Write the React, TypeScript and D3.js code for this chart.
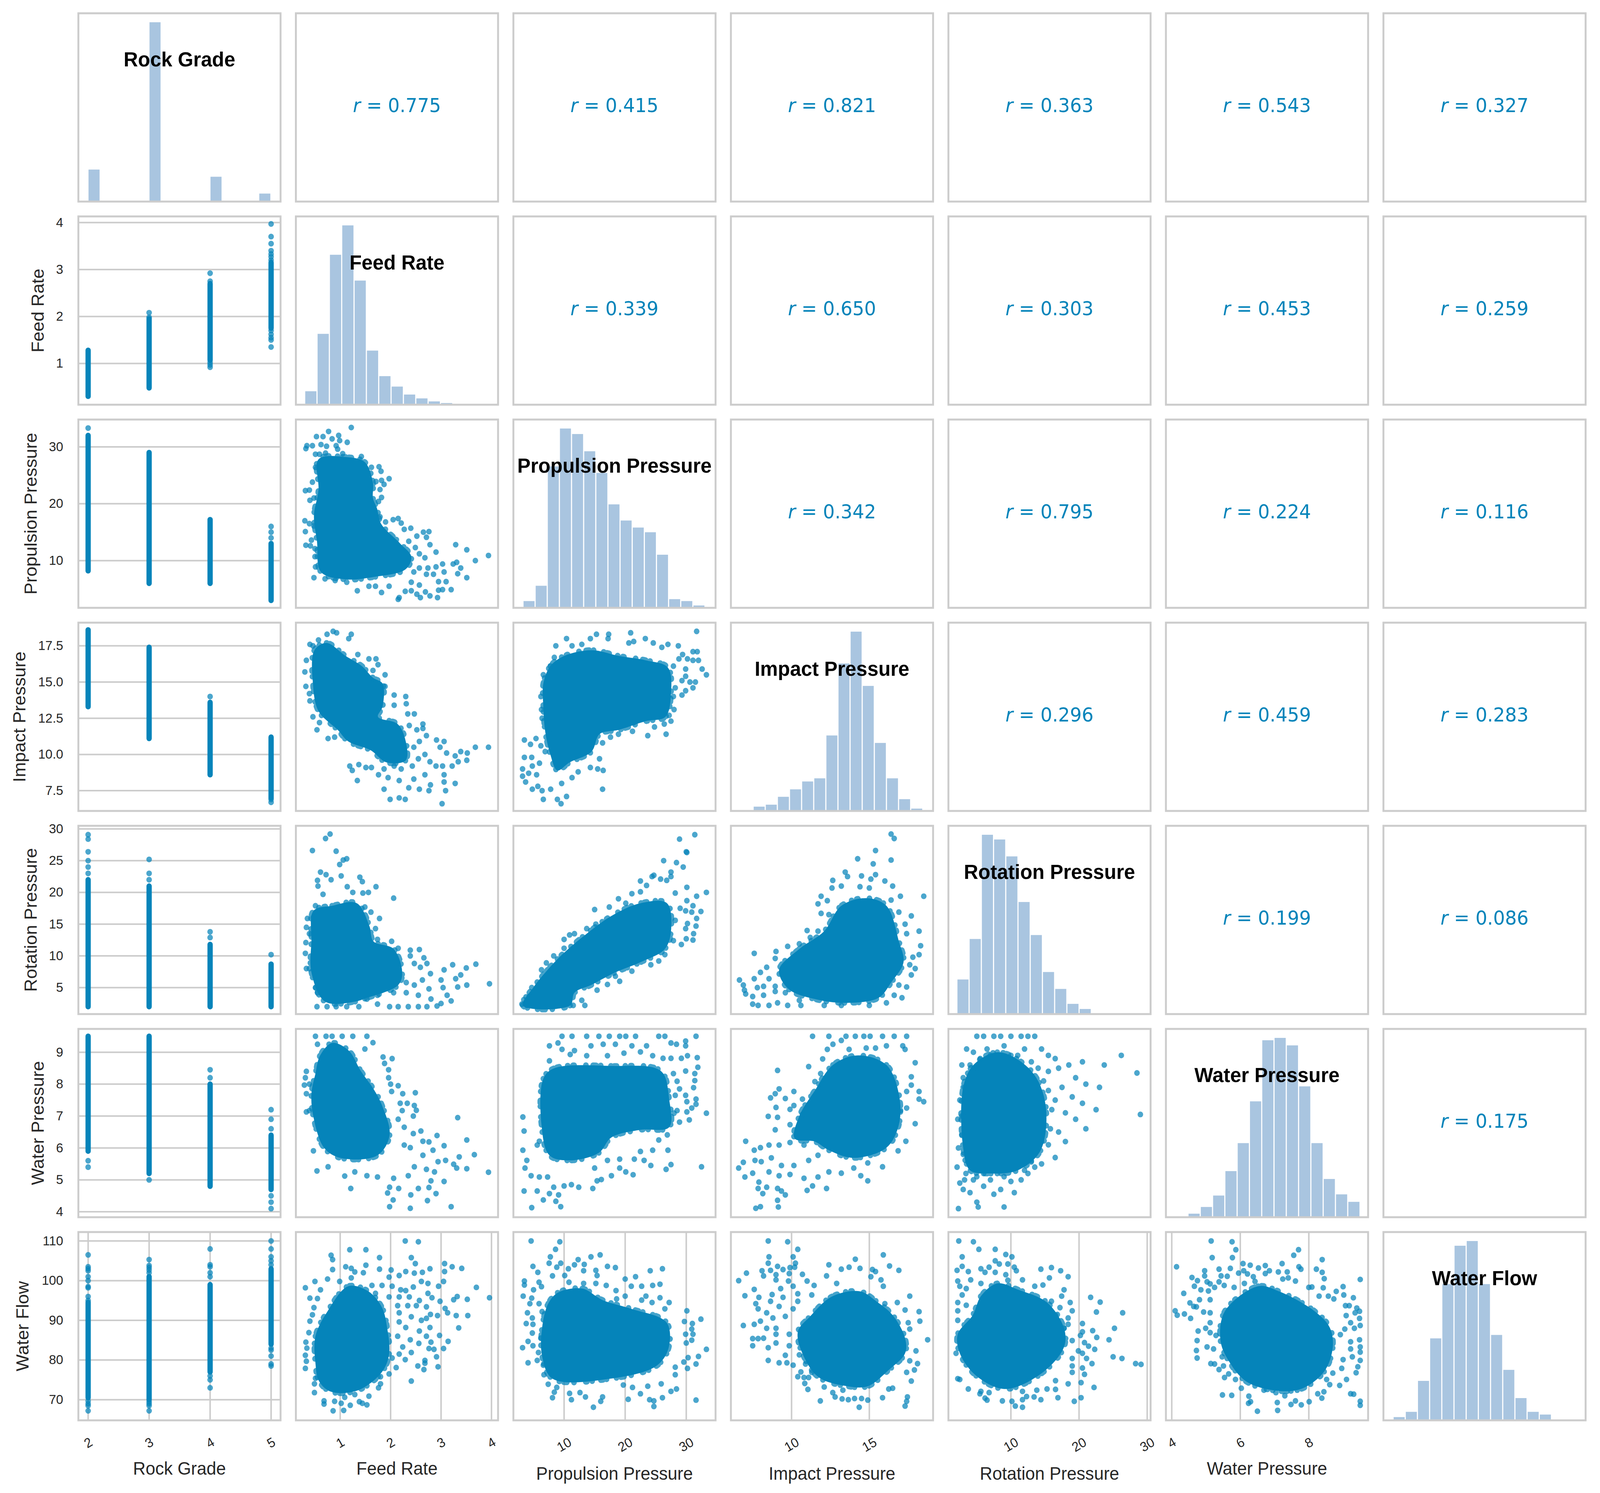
import React, { useEffect, useRef } from 'react';
import * as d3 from 'd3';

const variables = ['Rock Grade', 'Feed Rate', 'Propulsion Pressure', 'Impact Pressure', 'Rotation Pressure', 'Water Pressure', 'Water Flow'];

const axisDomains = [[1.84, 5.155], [0.122, 4.13], [1.7, 34.8], [6.1, 19.1], [0.83, 30.5], [3.83, 9.73], [64.8, 112.25]];
const yTicks = [[], [1, 2, 3, 4], [10, 20, 30], [7.5, 10, 12.5, 15, 17.5], [5, 10, 15, 20, 25, 30], [4, 5, 6, 7, 8, 9], [70, 80, 90, 100, 110]];
const xTicks = [[2, 3, 4, 5], [1, 2, 3, 4], [10, 20, 30], [10, 15], [10, 20, 30], [4, 6, 8], []];

// correlation labels, upper triangle by row
const rValues = [
  [0.775, 0.415, 0.821, 0.363, 0.543, 0.327],
  [0.339, 0.65, 0.303, 0.453, 0.259],
  [0.342, 0.795, 0.224, 0.116],
  [0.296, 0.459, 0.283],
  [0.199, 0.086],
  [0.175],
];

// histogram bars, heights
const histRock = [116, 0, 0, 0, 0, 650, 0, 0, 0, 0, 90, 0, 0, 0, 29];
const histFeed = [49, 258, 546, 653, 452, 197, 104, 66, 37, 23, 12, 6, 2, 1, 1];
const histPropulsion = [49, 160, 1025, 1300, 1260, 1135, 978, 750, 633, 582, 548, 385, 63, 49, 17];
const histImpact = [33, 48, 108, 165, 225, 249, 576, 1125, 1368, 954, 519, 249, 90, 18];
const histRotation = [264, 573, 1368, 1332, 1203, 855, 603, 321, 192, 78, 39, 3, 1, 1, 1];
const histWaterPressure = [3, 27, 78, 165, 351, 564, 882, 1347, 1365, 1308, 996, 564, 291, 174, 117];
const histWaterFlow = [18, 47, 218, 453, 753, 965, 991, 753, 472, 279, 123, 47, 32, 1, 1];
const histCounts = [histRock, histFeed, histPropulsion, histImpact, histRotation, histWaterPressure, histWaterFlow];
const histRanges = [[2, 5], [0.3, 3.97], [3.3, 33.1], [7.54, 18.45], [2.1, 29], [4.12, 9.5], [67.1, 110]];

// solid runs of overplotted points in the Rock Grade column: grade, from, to
const stripsFeed = [[2, 0.3, 1.28], [3, 0.48, 1.95], [4, 1.07, 2.7], [5, 1.75, 3.15]];
const stripsPropulsion = [[2, 8.2, 32], [3, 6, 29], [4, 6, 17.2], [5, 3, 13]];
const stripsImpact = [[2, 13.3, 18.6], [3, 11.1, 17.4], [4, 8.6, 13.6], [5, 7, 11.2]];
const stripsRotation = [[2, 2, 22], [3, 2, 21], [4, 2, 11.8], [5, 2, 8.7]];
const stripsWaterPressure = [[2, 5.9, 9.5], [3, 5.2, 9.5], [4, 4.8, 8], [5, 4.7, 6.4]];
const stripsWaterFlow = [[2, 70.5, 94.5], [3, 70, 101], [4, 77, 99], [5, 84, 103]];
const stripsByRow = [[], stripsFeed, stripsPropulsion, stripsImpact, stripsRotation, stripsWaterPressure, stripsWaterFlow];

// single points beyond those runs: grade, value
const gradeFeed = [[3, 2.08], [3, 1.98], [4, 0.92], [4, 0.97], [4, 1.02], [4, 2.75], [4, 2.92], [5, 1.35], [5, 1.5], [5, 1.55], [5, 1.62], [5, 1.7], [5, 3.2], [5, 3.27], [5, 3.33], [5, 3.4], [5, 3.55], [5, 3.7], [5, 3.97]];
const gradePropulsion = [[2, 33.3], [5, 14], [5, 15], [5, 16]];
const gradeImpact = [[4, 14], [5, 6.7], [5, 6.9]];
const gradeRotation = [[2, 23], [2, 24], [2, 25], [2, 26.4], [2, 28.4], [2, 29.1], [3, 22], [3, 23], [3, 25.2], [4, 12.9], [4, 13.8], [5, 10.2]];
const gradeWaterPressure = [[2, 5.4], [2, 5.6], [3, 5], [4, 8.2], [4, 8.45], [5, 4.1], [5, 4.3], [5, 4.5], [5, 6.6], [5, 6.9], [5, 7.2]];
const gradeWaterFlow = [[2, 67.2], [2, 68.5], [2, 69], [2, 69.7], [2, 95], [2, 96], [2, 98.2], [2, 98.5], [2, 100], [2, 101], [2, 102.5], [2, 103], [2, 103.5], [2, 106.5], [3, 67.2], [3, 68.5], [3, 69], [3, 69.5], [3, 102], [3, 102.7], [3, 103.3], [3, 103.8], [3, 105.3], [4, 73], [4, 75], [4, 76], [4, 101], [4, 102], [4, 103.5], [4, 104], [4, 108], [5, 78.5], [5, 79], [5, 81], [5, 82.5], [5, 83], [5, 104], [5, 105], [5, 106], [5, 108], [5, 110]];
const gradePointsByRow = [[], gradeFeed, gradePropulsion, gradeImpact, gradeRotation, gradeWaterPressure, gradeWaterFlow];

// outline of the solid overplotted core of each scatter, keyed "x-y" by variable index
const cores: Record<string, number[][]> = {
  '1-2': [[0.57, 27.8], [1.11, 28.2], [1.49, 27.3], [1.65, 23.7], [1.65, 21], [1.73, 19.2], [1.81, 16.5], [2.19, 13], [2.41, 10.7], [2.3, 8.5], [1.65, 7.1], [1.11, 6.7], [0.62, 8], [0.54, 13.4], [0.48, 17.9], [0.57, 22.4]],
  '1-3': [[0.49, 17.2], [0.73, 17.7], [1.11, 16.8], [1.43, 16.1], [1.65, 15.3], [1.84, 14.9], [1.84, 13.3], [1.75, 12.6], [2.14, 12.1], [2.3, 10.9], [2.3, 9.6], [1.92, 9.45], [1.6, 10.3], [1.16, 10.9], [0.95, 11.7], [0.57, 13], [0.46, 14.9]],
  '1-4': [[0.47, 17.1], [0.84, 17.9], [1.33, 18.3], [1.58, 14.7], [1.66, 12.3], [2.06, 11.1], [2.23, 7.4], [2.15, 5.4], [1.5, 3.3], [1.3, 2.8], [0.7, 2.8], [0.43, 7.4], [0.43, 12.3]],
  '1-5': [[0.51, 8.33], [0.6, 8.89], [0.84, 9.29], [1.17, 9.05], [1.41, 8.41], [1.66, 7.85], [1.82, 7.37], [1.98, 6.41], [1.74, 5.77], [1, 5.69], [0.68, 6.01], [0.47, 6.97], [0.43, 7.69]],
  '1-6': [[0.51, 79.2], [0.51, 86], [0.75, 92.3], [1.16, 98.6], [1.56, 97.3], [1.83, 93.2], [1.93, 88.2], [1.97, 81.5], [1.83, 77], [1.36, 72.4], [0.82, 72], [0.58, 74.7]],
  '2-3': [[6.6, 14.9], [7.75, 16.1], [10, 16.8], [14.5, 17.2], [19, 16.8], [23.4, 16.5], [27, 16], [27.5, 14.2], [26.6, 12.6], [23.4, 12.3], [19, 11.7], [15.8, 11.4], [14.5, 10.2], [10.9, 9.45], [8.9, 8.9], [7.75, 10], [6.9, 11.6], [6.6, 13.3]],
  '2-4': [[4.94, 5], [7.3, 7.8], [9.66, 10.2], [13.7, 13.5], [17.75, 16.3], [22.5, 18.3], [26.85, 18.3], [27.5, 13.9], [26.5, 11.1], [22.5, 9], [18.4, 7.4], [14.4, 5.4], [11.7, 4.2], [11, 2.2], [3.25, 2.2]],
  '2-5': [[6.6, 8.17], [8.3, 8.49], [17.75, 8.57], [25.85, 8.41], [27.2, 7.53], [27.2, 6.65], [22.5, 6.57], [17.75, 6.33], [15.7, 5.85], [11, 5.61], [7.6, 5.77], [6.3, 6.73]],
  '2-6': [[6.4, 88.1], [7.4, 94.2], [9, 97], [13, 98], [16.3, 95.1], [21, 92.9], [26.8, 89.4], [27.1, 83], [25.1, 78.5], [17.6, 75.3], [8.1, 75.3], [6.4, 81]],
  '3-4': [[9.2, 7.8], [10.5, 11.1], [12.1, 13.9], [13.2, 17.9], [14.8, 19.1], [16.1, 17.9], [16.9, 12.3], [17.2, 9], [16.4, 5.8], [15.6, 3.4], [13.45, 2.6], [11.5, 3.2], [9.8, 4.8]],
  '3-5': [[11.5, 7.8], [12.66, 8.6], [14.25, 8.9], [16.1, 8.6], [16.9, 7.69], [16.9, 6.73], [16.1, 6.01], [14, 5.69], [12.4, 5.93], [11.5, 6.2], [10.2, 6.3], [10.5, 7]],
  '3-6': [[11.2, 91], [12.6, 96], [14.4, 97.3], [15.45, 94.8], [16.5, 91.3], [17.3, 85.5], [17.3, 81.7], [16.25, 77.5], [14.9, 73.4], [13.6, 73.4], [11.8, 75.5], [10.9, 80], [10.4, 87]],
  '4-5': [[3, 6], [3, 7.9], [4.5, 8.6], [8, 9], [11.5, 8.7], [14, 8.1], [15.2, 7.1], [14.3, 5.9], [11, 5.3], [7, 5.2], [4, 5.3]],
  '4-6': [[4.4, 91.3], [5.6, 96.1], [8, 99.3], [11.1, 97.7], [15.3, 94.5], [17.8, 88], [17.8, 83.3], [14.7, 76.9], [9.25, 72.7], [5, 75.9], [2.5, 81.7], [2.2, 86.5]],
  '5-6': [[5.55, 92.3], [6.52, 98.6], [7.13, 97.3], [8.17, 92.3], [8.61, 88.2], [8.7, 83.3], [8.44, 77], [7.65, 72.4], [6.25, 74.2], [5.64, 80.1], [5.42, 85.1]],
};

// points that stay visible around each core, read panel by panel
const feedPropulsion = [[1.22, 33.4], [0.77, 32.7], [0.53, 31.8], [0.66, 31.8], [0.97, 32], [0.99, 31.1], [1.14, 30.8], [0.84, 31.4], [0.34, 30.2], [0.32, 29.7], [0.45, 30.2], [0.62, 30.4], [0.73, 30.1], [0.92, 30.2], [0.95, 29.6], [0.51, 28.7], [0.71, 28.9], [1.05, 28.8], [1.42, 28.3], [0.59, 28.7], [1.62, 26.4], [1.77, 26.5], [1.81, 25.7], [0.51, 26.4], [1.97, 24.4], [0.45, 23.8], [1.71, 23.9], [1.82, 24.1], [1.87, 23.4], [1.79, 22.5], [0.31, 22.3], [0.39, 22.4], [0.4, 20.6], [0.48, 21], [1.82, 21.1], [1.76, 20.4], [0.3, 17], [0.39, 16.5], [0.48, 16.1], [0.31, 15.1], [0.43, 13.6], [0.32, 12.7], [0.41, 12.6], [0.5, 12.1], [0.5, 10.7], [0.51, 8.9], [0.48, 7], [0.7, 6.8], [0.9, 6.5], [1.13, 6.2], [1.34, 4.7], [1.57, 5.5], [1.7, 5.5], [1.82, 4.4], [1.97, 5.5], [2.15, 3.2], [2.17, 3.5], [2.29, 4.6], [2.41, 4.7], [2.52, 4.1], [2.59, 3.5], [2.78, 3.8], [2.93, 3.5], [2.95, 4.8], [3.03, 4.9], [3.2, 4.9], [2.69, 4.5], [2.41, 6.2], [2.57, 5.7], [2.95, 6.3], [3.1, 6.3], [3.33, 7.7], [3.51, 7], [3.39, 8.7], [3.31, 9.7], [3.24, 9.4], [3.03, 9.4], [3.06, 8], [2.9, 8.9], [2.74, 8.7], [2.71, 7.6], [2.85, 7.6], [2.46, 8], [2.57, 8.7], [3.68, 10], [3.94, 10.9], [3.51, 11.9], [3.29, 12.8], [2.9, 11.5], [2.78, 12.8], [2.76, 15.1], [2.65, 15], [2.71, 14.1], [2.52, 14.3], [2.4, 15.7], [2.27, 15.5], [2.15, 17.4], [2.21, 16.6], [2.05, 17.2], [1.9, 16.8], [1.79, 17.7], [2.36, 13.4], [2.49, 12.3], [2.57, 11.2], [2.68, 10.5]];
const feedImpact = [[0.86, 18.5], [0.93, 18.4], [0.74, 18.3], [1.22, 18.3], [1.17, 18], [0.57, 17.9], [0.4, 17.6], [0.46, 17.5], [0.33, 16.5], [0.3, 15.7], [0.32, 14.7], [0.39, 14.2], [0.4, 13.7], [0.46, 12.6], [0.59, 12.2], [0.54, 11.7], [0.76, 11.1], [0.89, 11.2], [1.35, 16.9], [1.57, 16.6], [1.71, 16.6], [1.75, 16.2], [1.65, 15.8], [1.89, 15.5], [1.89, 14.7], [2.07, 14.1], [2.3, 14], [2.31, 13.5], [2.07, 13.4], [2.34, 12.8], [2.47, 12.8], [2.37, 12], [2.64, 12.1], [2.64, 11.8], [2.52, 11.7], [2.71, 11.3], [2.91, 11], [3.06, 10.9], [2.57, 10.9], [2.46, 10.5], [2.98, 10.5], [3.11, 10.1], [3.39, 10.2], [3.52, 10.1], [3.68, 10.5], [3.94, 10.5], [3.28, 9.9], [3.34, 9.5], [3.51, 9.6], [3.22, 9.2], [3.03, 9.2], [2.78, 9.5], [2.9, 9.2], [2.68, 10], [2.55, 9.7], [2.43, 9.2], [2.21, 9], [2.07, 9.2], [1.87, 9], [1.62, 9.1], [1.51, 9.1], [1.37, 9.3], [1.19, 9.2], [1.24, 8.9], [1.76, 8.6], [1.95, 8.4], [2.17, 8.2], [2.36, 7.7], [2.46, 8.3], [2.68, 8.6], [3.06, 8.6], [3.06, 8.1], [3.28, 8], [2.79, 7.9], [2.57, 7.6], [2.76, 7.5], [3.09, 7.5], [1.87, 7.6], [1.34, 8.2], [1.99, 6.9], [2.17, 7], [2.29, 6.9], [3.02, 6.6]];
const feedRotation = [[0.8, 29.2], [0.71, 28.5], [0.45, 26.6], [0.92, 26.5], [1.13, 25.3], [1.06, 25.1], [0.99, 24.4], [0.61, 23.2], [0.72, 22.8], [1.02, 22.6], [1.39, 22.4], [0.55, 21.9], [0.82, 22], [1.44, 21.7], [0.56, 21], [1.71, 20.9], [1.14, 20.9], [1.56, 20], [1.45, 19.9], [2.06, 19.1], [0.66, 19.7], [1.25, 20], [0.51, 17.9], [1.49, 17.7], [1.61, 16.9], [0.35, 15.9], [0.47, 16.1], [1.78, 15.9], [0.33, 14.5], [1.7, 14.3], [0.39, 13.5], [1.74, 12.6], [2.02, 12.3], [0.32, 12.1], [0.31, 10.4], [2.15, 11.2], [2.39, 10.9], [2.57, 11], [2.39, 10], [2.66, 9.7], [0.33, 8], [2.47, 8.8], [2.72, 8.8], [2.59, 8.2], [3.23, 8.6], [3.06, 7.8], [3.5, 8.1], [3.69, 8.7], [2.79, 7.2], [3.39, 7], [3.29, 6.4], [3, 6.2], [2.63, 6.2], [3.96, 5.6], [3.51, 5.4], [3.33, 5.1], [3.04, 5], [2.76, 4.8], [2.47, 5.4], [2.31, 5.8], [3.12, 3.8], [3.2, 2.9], [3, 2.5], [2.8, 3.2], [2.55, 3.8], [2.31, 4.2], [2.06, 4.2], [2.55, 2], [2.72, 2], [2.92, 2.1], [2.35, 2], [2.15, 2], [1.98, 2], [1.74, 2.4], [1.74, 3.8], [1.53, 3.2], [1.37, 2], [1.13, 2], [0.92, 2], [0.74, 2], [0.54, 2], [0.55, 4.2], [0.51, 5], [0.39, 8]];
const feedWaterPressure = [[0.51, 9.5], [0.72, 9.5], [0.84, 9.5], [1.04, 9.5], [1.25, 9.5], [1.53, 9.5], [1.65, 9.3], [1.49, 9.1], [0.55, 9.25], [2.03, 8.8], [1.85, 8.85], [1.88, 8.65], [0.33, 8.4], [1.96, 8.45], [0.31, 8.2], [0.39, 8], [1.96, 8.2], [2, 8], [0.29, 7.97], [0.33, 7.7], [2.15, 7.95], [2.02, 7.77], [2.49, 7.73], [2.24, 7.7], [0.39, 7.17], [0.33, 7.13], [2.19, 7.4], [2.33, 7.4], [2.47, 7.33], [2.51, 7.18], [3.33, 6.95], [2.23, 7.17], [2.45, 7], [2.15, 6.9], [2.27, 6.65], [2.6, 6.53], [2.45, 6.45], [2.92, 6.39], [3.51, 6.25], [2.64, 6.21], [2.76, 6.19], [2.27, 6.09], [2.39, 6.01], [0.47, 5.91], [2.84, 5.93], [3.06, 6.07], [2.64, 5.77], [3.36, 5.72], [3.66, 5.79], [3.09, 5.61], [3.25, 5.49], [2.94, 5.57], [3.51, 5.35], [3.31, 5.37], [3.94, 5.24], [2.87, 5.25], [2.71, 5.33], [2.47, 5.41], [0.54, 5.28], [0.76, 5.41], [1.09, 5.12], [1.53, 5.13], [1.29, 5.25], [1.74, 5.09], [2.06, 5.05], [2.35, 5.13], [2.8, 4.97], [3.06, 4.95], [1.21, 4.73], [1.98, 4.77], [2.16, 4.73], [2.55, 4.73], [2.76, 4.76], [2.9, 4.57], [2.4, 4.53], [1.94, 4.59], [2.05, 4.37], [2.73, 4.35], [1.98, 4.16], [2.39, 4.11], [3.2, 4.16]];
const feedWaterFlow = [[2.29, 110], [2.55, 109.8], [1.19, 107.8], [1.51, 107.8], [0.82, 106.4], [0.85, 105.3], [1.78, 105.8], [2.41, 105.8], [2.49, 104.3], [3.07, 104.3], [3.22, 103.5], [3.41, 103.1], [1.11, 103.5], [0.85, 102.8], [1.51, 103.9], [1.22, 103.1], [1.29, 102.2], [1.78, 102.9], [2.01, 102.7], [2.3, 102.3], [2.47, 101.9], [2.78, 103], [3.07, 102.3], [2.63, 102.1], [1.46, 102], [0.75, 100.4], [0.5, 99.8], [0.99, 99.8], [1.22, 100.7], [1.97, 100.9], [2.17, 101.3], [2.61, 99.8], [2.74, 99.3], [3.05, 99.8], [0.31, 98.2], [0.61, 97.7], [1.63, 98.8], [1.83, 98.8], [2.03, 98.6], [2.45, 98.4], [2.95, 98.6], [3.7, 98.3], [0.4, 95.6], [0.55, 95.5], [1.7, 96.8], [2.2, 97.7], [2.3, 97.5], [2.74, 96.8], [3.96, 95.7], [3.32, 96], [3.25, 95.2], [3.52, 95.3], [2.82, 95.7], [2.98, 94.8], [1.97, 95.9], [2.17, 95.9], [2.37, 95.9], [0.48, 93.2], [2.57, 95], [2.71, 93.4], [3.08, 93], [3.13, 91.9], [0.45, 91.4], [2.14, 93.7], [2.34, 93.7], [2.51, 93.7], [2.79, 91.5], [2.93, 91.2], [3.3, 91.2], [3.53, 91.2], [0.4, 89.8], [2.17, 91.9], [2.41, 90.9], [2.61, 90], [2.71, 90.5], [3.35, 88.1], [2.78, 88.2], [0.38, 86.9], [2.57, 87.3], [2.17, 89.6], [2.3, 88.2], [2.97, 86.2], [2.71, 86], [2.39, 85.1], [2.14, 86], [0.32, 84.5], [3.14, 84.7], [2.8, 84.5], [0.34, 83], [2.56, 84.2], [2.24, 83.3], [2.76, 82.9], [2.86, 82.7], [3.05, 82.9], [2.41, 81.9], [0.31, 81.2], [2.17, 81.5], [0.33, 79.7], [2.91, 80.8], [2.29, 80.1], [2.03, 80.5], [0.31, 77.9], [2.68, 79.9], [2.54, 78.5], [2.68, 79.2], [2.94, 78.3], [2.66, 77.6], [2.11, 78.1], [1.97, 76.5], [0.51, 75.4], [0.49, 74], [1.8, 75.8], [1.8, 74], [2.41, 74.7], [1.76, 73], [0.49, 71.8], [1.57, 70.9], [0.68, 69.7], [0.68, 68.9], [0.89, 69.6], [1.02, 69.1], [1.2, 68.6], [1.38, 69.5], [1.44, 69.1], [1.53, 68.7], [0.86, 67.2], [1.07, 67.3], [1.29, 71.3], [1.09, 70.6]];
const propulsionImpact = [[31.7, 18.5], [20.9, 18.4], [17.3, 18.3], [15.3, 18.3], [10.4, 18], [14.3, 18], [17.2, 18], [21.4, 17.8], [23.3, 18], [20.6, 17.7], [24.6, 17.7], [12.9, 17.6], [11.3, 17.5], [8.65, 17.5], [27, 17.6], [28.7, 17.5], [26, 17.4], [31.1, 17.1], [31.8, 17.1], [29.4, 16.9], [30.2, 16.6], [28.8, 16.6], [31.1, 16.5], [32, 16.5], [32.6, 15.9], [33.3, 15.5], [29.9, 15.9], [27.9, 16.1], [29.9, 15.4], [29.3, 15.1], [31.5, 15], [30.6, 15], [31.1, 14.6], [29.9, 14.4], [28.2, 14.6], [29.3, 14.1], [27.9, 14], [28, 13.1], [27.2, 12.7], [27.5, 12.3], [26.4, 12.1], [26.7, 11.4], [24.8, 11.9], [23.7, 11.3], [21.2, 11.6], [21.4, 12.2], [18.9, 11.4], [17.6, 11.2], [16.3, 10.8], [15.8, 9.7], [16.4, 8.9], [15.5, 9], [14.3, 9.1], [12.3, 8.8], [16.3, 7.6], [11.3, 8.4], [9.6, 8], [10.4, 7.1], [8.9, 6.9], [9.5, 6.6], [6.6, 6.9], [6.4, 7.5], [7.8, 7.6], [4.8, 7.6], [3.7, 8.1], [3.2, 8.5], [3.2, 9], [4.2, 8.7], [5.5, 8.6], [5.7, 7.8], [3.5, 9.8], [4.7, 9.8], [3.5, 11], [4.5, 10.7], [5.4, 11.1], [6.2, 10.6], [4.8, 9.2], [5.97, 9.4], [6.9, 10.2], [6.2, 14], [6.3, 13.1], [6.4, 12.5], [7.5, 11.6], [6.6, 15.5], [7.75, 16.1], [8.4, 16.7]];
const propulsionRotation = [[31.4, 29.1], [28.9, 28.4], [30, 26.4], [30.1, 26.3], [26.3, 25], [28.4, 24.7], [29.5, 24], [24.7, 22.7], [24.4, 22.5], [27.5, 23.2], [27.5, 22.5], [22.5, 21.8], [25.8, 22.1], [26.8, 21.9], [23.5, 21.1], [30.1, 20.8], [33.3, 20], [31.7, 19.4], [30.1, 18.7], [21.1, 19.8], [22.5, 20.1], [28.2, 19.9], [18.9, 19], [20.1, 18.3], [15, 17.3], [29, 17.5], [31.1, 17.9], [29.9, 17.1], [32.4, 17], [30.9, 16.9], [31.7, 15.9], [30.2, 15.1], [31.6, 14.7], [28.2, 15.6], [29.9, 14.3], [31.2, 13.5], [30, 12.7], [31.1, 12.5], [29.2, 11.8], [27.9, 12.4], [26.5, 10.2], [25.5, 9.2], [24.2, 8.6], [21.1, 7.6], [19.1, 6], [18.4, 6.8], [17.1, 5.5], [15.4, 4.6], [12.9, 3], [13.4, 2.2], [11.5, 2.2], [6.3, 7.8], [7.1, 8.9], [8.3, 10], [10, 11.2], [10, 12.6], [10.9, 13.3], [11.7, 13.5], [13.7, 14.3], [15.2, 15], [17.4, 17.7], [4.7, 5], [4.3, 3.6], [3.4, 3.1], [3.1, 2.4], [3.9, 2.2], [5.6, 2.2]];
const propulsionWaterPressure = [[9.66, 9.5], [11.3, 9.5], [13.7, 9.5], [15.7, 9.5], [17.4, 9.5], [19.1, 9.5], [20.1, 9.5], [21.7, 9.5], [25.5, 9.5], [26.5, 9.5], [31.6, 9.5], [7.6, 9.2], [9, 9.29], [9.66, 9.09], [11.7, 9.05], [14.4, 9.2], [16.4, 9.25], [18.4, 9.25], [21.1, 9.2], [23.5, 9.2], [27.5, 9.29], [28.4, 9.25], [29.9, 9.35], [29.9, 9.2], [7.6, 8.73], [11, 8.93], [13.7, 8.89], [17.1, 8.89], [19.8, 8.97], [22.5, 9.01], [24.5, 8.89], [26.2, 8.81], [27.5, 8.81], [29.2, 8.81], [30.2, 8.89], [31.8, 8.83], [6.6, 8.17], [29.9, 8.41], [31.9, 8.53], [31.4, 8.33], [27.9, 8.33], [28.5, 8.09], [31.4, 8.11], [28.9, 7.85], [31.2, 7.89], [28.2, 7.65], [29.9, 7.65], [31.6, 7.53], [30.1, 7.45], [31.6, 7.37], [28.5, 7.17], [30.1, 7.13], [33.3, 7.09], [30.9, 7.25], [28, 7.09], [30.5, 6.88], [28.9, 6.81], [3.25, 6.97], [3.45, 6.53], [3.25, 5.93], [5.6, 6.09], [5.95, 6.21], [26.9, 6.41], [25.5, 6.25], [24.5, 5.93], [27, 5.93], [23.1, 5.61], [24.2, 5.45], [27.5, 5.48], [26.7, 5.33], [32.5, 5.41], [21.5, 5.65], [19.1, 5.65], [21.3, 5.16], [20.1, 5.25], [17.75, 5.13], [16.1, 5.01], [15.4, 4.97], [14.7, 4.73], [12.4, 4.77], [11.2, 4.85], [10, 4.81], [5.6, 4.65], [3.45, 4.65], [4.6, 5.13], [3.9, 5.61], [3.6, 5.37], [5.95, 5.09], [7.3, 5.09], [8.3, 4.77], [6.6, 4.37], [7.6, 4.57], [9.1, 4.53], [8.65, 4.33], [4.7, 4.13], [9.45, 4.16], [19.1, 5.37], [22.5, 5.89], [17.1, 5.61], [15, 5.37]];
const propulsionWaterFlow = [[4.6, 110], [9.3, 109.8], [8.6, 107.9], [7.75, 106], [7.55, 104.4], [9.45, 104.4], [12.3, 105.3], [14.4, 106], [15.9, 106.5], [13.3, 104.1], [11.7, 104], [17.1, 103.6], [18.4, 103.3], [4.9, 103.6], [5.7, 102.1], [8.8, 103.4], [10.7, 103], [13.2, 102.5], [15.2, 102.6], [24.1, 102.5], [26.1, 103], [15.4, 101.3], [8.1, 101.2], [10.1, 101.3], [20, 100.4], [21.7, 101], [3.5, 99.9], [3.5, 98.9], [5.9, 99.6], [5, 97.7], [6.3, 98.5], [3.3, 96.1], [4.7, 95.6], [4.4, 94.2], [5.9, 94.2], [4, 91.9], [6.4, 92.2], [4.8, 90.6], [3.8, 89.2], [4.9, 89], [4.8, 86.8], [6.2, 85.5], [4.1, 84.7], [3.2, 83.1], [4.9, 83.6], [5.8, 81.9], [5.6, 79.9], [4.1, 79.3], [6.6, 78.7], [6.7, 76.3], [7.4, 73.9], [8.8, 73.1], [8.4, 71.9], [8.1, 70.5], [11.2, 70], [10.9, 71.6], [12.6, 71.8], [13.5, 70.7], [16.3, 70.7], [16, 69.6], [14.8, 68.1], [20.5, 70.1], [24, 70], [24.7, 69.7], [24.7, 68.3], [26.1, 70.5], [31.6, 69.9], [27.5, 72.1], [28.4, 72.7], [22.5, 71.5], [21.2, 73.1], [25.9, 74], [23.7, 73.4], [19.7, 73.7], [28.2, 76.3], [30.2, 77.9], [28.2, 78.2], [31.6, 79], [29.6, 79.5], [32, 80.9], [30.3, 80.6], [33.3, 82.7], [30.9, 85], [30, 84.3], [29.9, 86.5], [31.1, 86.5], [30.9, 87.8], [29.7, 89.7], [31, 89.2], [32.4, 90.3], [30.1, 92.4], [27.2, 94.5], [26.5, 92.9], [24.4, 94.5], [25.7, 95.7], [22.7, 95.1], [23.4, 96.1], [21, 98.6], [22.7, 98.6], [24.5, 98.8], [25.7, 99.1], [18.5, 97.5], [16.9, 98.8], [20, 96.1], [18.6, 95.4], [10.8, 99.6], [13.2, 99.3], [15.2, 99.3]];
const impactRotation = [[16.4, 29.2], [16.6, 28.5], [15.4, 26.6], [14.25, 25.3], [16.4, 25.1], [15.25, 24.5], [13.45, 23.2], [13.6, 22.5], [14.5, 22.6], [15.4, 22.8], [15.1, 22.1], [16, 21.8], [12.65, 21.9], [13.2, 21], [16.5, 21], [12.6, 20.7], [14.4, 20.9], [15, 20.7], [18.5, 19.4], [11.9, 19.4], [11.7, 18.2], [12.3, 18.7], [17, 19.4], [16.4, 18.8], [16.9, 16.9], [11.9, 16.7], [17.7, 16.3], [12.4, 16.5], [17.3, 15], [18.2, 13.9], [11.7, 13.9], [11, 14], [11.2, 12.9], [17.4, 13.5], [18.3, 11.6], [9.75, 11.5], [10.5, 11.9], [7.6, 10.4], [9, 10.7], [8.95, 9.6], [18.2, 10.2], [17.8, 9.8], [17.6, 8.6], [17.95, 8], [8.4, 8.2], [8, 7.4], [7.6, 6.4], [8.55, 6.4], [6.65, 6.2], [6.9, 5.4], [6.97, 4.6], [7.05, 4], [7.8, 5], [8.2, 5.2], [8.95, 5.2], [8.2, 3.8], [7.5, 3.6], [7.5, 2.4], [7.85, 2.2], [8.55, 2.2], [9.1, 2.6], [9.75, 2.2], [10.5, 3], [10.6, 2.2], [11.3, 3.8], [12.1, 2.2], [13.2, 2.2], [15, 2.2], [16.1, 2.6], [16.6, 3.8], [17.1, 3.4], [17.4, 5.1], [16.9, 5.4], [17.7, 7], [9.6, 4.2], [8.95, 4.4]];
const impactWaterPressure = [[11.35, 9.5], [12.4, 9.5], [13.5, 9.5], [14.1, 9.5], [14.65, 9.5], [15.05, 9.5], [15.85, 9.5], [16.6, 9.5], [17.4, 9.5], [13.2, 9.37], [12.66, 9.25], [12.3, 9.09], [17.15, 9.2], [17.3, 9.09], [16.1, 9.2], [14.8, 9.13], [13.7, 9.09], [12, 8.79], [15.4, 9.13], [17.95, 8.67], [11.1, 8.55], [9.1, 8.43], [11.87, 8.33], [11.5, 8.08], [17.7, 8.23], [17.7, 7.97], [17.4, 7.77], [18.2, 7.77], [18.5, 7.45], [18.2, 7.53], [17.4, 7.25], [17, 7.13], [17.95, 6.76], [17.35, 6.21], [16.85, 5.91], [9.2, 7.85], [8.65, 7.57], [8.95, 7.7], [10.15, 7.77], [9.6, 7.55], [10.7, 7.53], [10.15, 7.33], [9, 7.27], [8.5, 6.99], [9.1, 6.96], [9.9, 7.21], [10.7, 7.05], [8.95, 6.57], [9.9, 6.73], [10.3, 6.41], [11.1, 6.49], [7.05, 6.21], [8.55, 6.09], [8, 6.01], [7.6, 5.93], [9.2, 6.09], [9.9, 6.17], [10.8, 6.09], [7.65, 5.61], [6.9, 5.55], [8.05, 5.57], [8.7, 5.69], [9.35, 5.45], [10.15, 5.45], [11.1, 5.61], [11.7, 5.77], [6.6, 5.37], [7.5, 5.21], [7, 5.09], [8.55, 5.25], [9.2, 5.13], [9.9, 5.17], [10.8, 5.05], [11.7, 5.09], [12.4, 5.25], [13.2, 5.21], [14, 5.37], [14.9, 5.53], [15.85, 5.41], [14.9, 4.97], [14.45, 5.13], [7.9, 4.93], [7.85, 4.73], [8.4, 4.77], [9.1, 4.73], [9.6, 4.53], [9.35, 4.65], [11.35, 4.81], [11, 4.67], [12.25, 4.73], [8.15, 4.57], [9.1, 4.36], [7.7, 4.11], [8, 4.16], [9.15, 4.15]];
const impactWaterFlow = [[8.5, 110], [9.75, 109.8], [10.4, 107.9], [8.55, 106], [10.1, 106], [15.9, 106.5], [14.1, 105.4], [8.5, 104.4], [10.25, 104.4], [12.4, 104], [9.1, 103.6], [9.9, 103.3], [10.2, 103.4], [16.3, 103.7], [13.2, 102.9], [13.7, 103.4], [14.4, 103.1], [15.2, 102.8], [15.4, 102.3], [16.9, 102.6], [7.1, 101.9], [8.1, 102.5], [8.65, 102.6], [9.45, 102.8], [8.2, 101.2], [9, 101.5], [9.85, 101.8], [10.7, 101.6], [12.25, 101.2], [15.1, 101], [6.6, 100], [9, 100.2], [9.8, 99.9], [11, 99.9], [15.75, 100.2], [7.6, 97.8], [9.3, 98], [10.1, 98.6], [11.45, 98.8], [12.9, 99.3], [15.9, 98.6], [7, 96.2], [7.9, 95.8], [8.75, 96.5], [10.4, 96.7], [11.3, 96.4], [17.6, 96.1], [7.7, 94.2], [8.65, 94.8], [9.45, 95.8], [10.4, 94.8], [16, 94.2], [16.8, 94.5], [7.85, 92.9], [8.4, 91.9], [9.2, 93.5], [10.1, 92.9], [18.2, 92.2], [17.3, 92.6], [8.8, 90.6], [9.6, 91], [8, 89.8], [7.6, 89], [6.9, 88.7], [8.4, 88], [9, 88], [18.25, 89.8], [17.5, 89.4], [17.6, 87.8], [9, 86.5], [9.85, 86.5], [18.75, 85.1], [7.5, 85.4], [8.2, 85.5], [7.85, 85.4], [7.5, 83.6], [8.5, 83.1], [9, 84.3], [9.85, 83.6], [18, 82.3], [9.6, 81.2], [10.5, 81.3], [8.5, 79.9], [9.2, 79.3], [9.7, 79.3], [10.1, 78.7], [10.9, 79], [18.1, 79.1], [17.6, 79.8], [17.9, 77.5], [17.4, 76.9], [10.6, 77], [11.3, 76.9], [10.4, 75.8], [10.8, 75.6], [11.1, 75.6], [17.7, 74.7], [10.85, 74.1], [11.05, 72.6], [12.1, 73.2], [13.3, 72.4], [16.5, 72.9], [16.25, 72.7], [12.65, 71.8], [12.8, 70.7], [11.85, 69.7], [13.25, 70.2], [13.65, 70], [14.05, 70.3], [14.5, 70.3], [14.9, 69.9], [15.85, 70.5], [17.45, 70.7], [17.4, 69.6], [14.35, 68.1], [17.3, 68.4]];
const rotationWaterPressure = [[5, 9.5], [6, 9.5], [7.5, 9.5], [8.5, 9.5], [10, 9.5], [11.5, 9.5], [12.5, 9.5], [13.5, 9.5], [3.5, 9.1], [4.5, 9], [6.5, 9.1], [9, 9.2], [12, 9.1], [14.5, 9.1], [15.5, 8.9], [16.5, 8.8], [2.8, 8.6], [3, 8.2], [15.5, 8.4], [17, 8.5], [18.5, 8.6], [20.5, 8.7], [26.2, 8.9], [19.5, 8.2], [23.7, 8.6], [28.5, 8.35], [21, 8], [23, 7.9], [17.5, 7.9], [19, 7.6], [20.5, 7.4], [18, 7.1], [16.5, 7.5], [2.5, 7.5], [2.2, 6.9], [29, 7.05], [22.5, 7.2], [19.5, 6.9], [21, 6.6], [17, 6.5], [15.5, 6.1], [18, 6.2], [16.5, 5.7], [14.5, 5.5], [2.3, 6], [2.1, 5.4], [2.5, 4.9], [2.3, 4.1], [3, 4.7], [3.4, 5.2], [4, 4.6], [4.5, 5], [5, 4.3], [6, 4.8], [7, 5], [7.5, 4.55], [8.5, 4.7], [9, 4.15], [10, 4.95], [11.5, 5], [12.5, 5.2], [10.5, 4.6], [5.2, 4.15], [13.5, 5.4], [2.8, 7], [4, 8.6], [5.5, 8.8], [7, 8.9], [8, 9], [10, 8.9], [11, 8.9], [13, 8.7], [14, 8.5], [5, 8.5], [3.2, 7.9], [3, 7], [2.8, 6.4], [3, 5.8], [3.5, 5.5], [3.2, 5], [15.5, 7.8], [16, 7.2], [15.8, 6.6], [14.5, 6.2], [13, 5.6], [12, 5.3], [9, 5.1], [8, 5.2], [6, 5.2], [5, 5.1], [14.8, 8.1]];
const rotationWaterFlow = [[2.35, 110], [4.5, 109.8], [5.3, 107.9], [7.7, 107.9], [9.25, 106.6], [2.85, 106], [10.15, 106], [7.7, 105], [8.3, 104.2], [9.55, 104.2], [2.85, 103.6], [10.5, 103.4], [5.6, 103], [14.4, 102.9], [15.95, 103.3], [2.1, 102.6], [6.8, 103.4], [10.8, 102.5], [17.3, 102.5], [3.75, 102.3], [6.2, 102.1], [7.7, 102.1], [9.25, 101.5], [18.4, 101], [15.65, 100.7], [4.1, 100.2], [2.2, 99.9], [5.6, 99.3], [11.7, 100.2], [9.55, 100.1], [14.7, 98.9], [13.5, 98.6], [2.5, 98.6], [3.45, 98], [17.8, 97.7], [2.85, 96.4], [21.7, 95.8], [23.1, 94.6], [17.45, 96.1], [15.95, 94.8], [2.2, 94.5], [18.7, 94.5], [3.45, 93.8], [17.2, 93.2], [19, 92.4], [22.55, 92.1], [26.4, 91.9], [2.2, 92.4], [16.55, 91.3], [18.4, 90.6], [2.2, 90], [18.4, 89], [20.5, 89.2], [17.8, 88], [25.2, 88], [22, 87.4], [20.5, 87.1], [20.2, 86.2], [22.6, 85.7], [24.4, 85.1], [19, 84.9], [20.8, 84.4], [21.4, 83.5], [22.3, 82.7], [1.95, 81.7], [19.9, 82.3], [20.5, 81.7], [19, 80.4], [21.1, 80.4], [25, 80.8], [26.3, 80.4], [28.3, 79.1], [29.1, 78.9], [21.9, 79.1], [19, 78.5], [20.5, 78], [19, 76.9], [20.8, 76.4], [2.2, 75.3], [2.5, 75.1], [16.55, 74.8], [18.4, 74], [20.3, 74.3], [3.75, 72.7], [15.3, 72.7], [16.55, 72.6], [22.2, 73.1], [5.6, 72.1], [6.8, 71.8], [11.7, 72.1], [5.45, 71.5], [6.2, 70.4], [6.5, 69.9], [8.75, 69.7], [10.15, 69.6], [11.7, 70], [12.3, 70.8], [13.4, 70.7], [14.4, 70], [16.9, 70.5], [19.3, 69.6], [20.3, 70.5], [10.65, 68.4], [11.7, 68.1], [13.8, 72.4]];
const waterPressureWaterFlow = [[5.15, 110], [5.76, 109.8], [5.87, 107.8], [7.7, 107.8], [7.56, 106.4], [5.18, 105.8], [5.77, 105.8], [8.39, 105.3], [6.08, 104.3], [6.29, 103.9], [6.73, 103.8], [7.22, 104.3], [4.14, 103.5], [5.38, 102.9], [5.71, 103.1], [6.53, 103.2], [7.71, 103.5], [7.77, 102.9], [8.22, 102.9], [8.39, 102.1], [4.96, 102.5], [4.96, 101.2], [6.1, 102.5], [5.95, 101.9], [6.21, 101.7], [6.73, 101.8], [6.85, 102.5], [7.11, 102.2], [7.37, 102.2], [4.59, 100.8], [5.44, 101.2], [5.62, 101.1], [6.38, 101], [7.24, 100.4], [7.4, 100.7], [8.45, 100.5], [9.5, 100.3], [4.75, 100], [5.03, 99.7], [5.12, 99.2], [5.38, 99.7], [4.66, 98.6], [5.53, 98.8], [5.82, 98.3], [4.85, 97.7], [5.25, 98.3], [6.12, 99.3], [6.43, 99.8], [7.61, 99.9], [8, 98.3], [8.09, 98.4], [8.42, 98.2], [8.8, 97.3], [9, 98.5], [4.35, 96.8], [5.07, 97.4], [9.02, 96.4], [9.3, 95.7], [8.3, 96.1], [8.57, 96.1], [8.73, 95.4], [4.81, 95.2], [4.53, 94.4], [5.12, 95.2], [4.64, 93.5], [4.72, 93.4], [9.07, 93.7], [9.18, 93.7], [9.4, 93.1], [4.1, 92.4], [4.37, 91.6], [4.16, 91.3], [4.55, 90.5], [4.93, 92.1], [5.12, 91.9], [9.48, 92.3], [9.35, 91.9], [9.09, 91.2], [9.48, 90.5], [5.12, 89.4], [4.99, 88], [9.5, 88.7], [9.33, 88], [9.22, 89.4], [4.77, 87.3], [9.05, 87.8], [5.12, 86.9], [5.29, 86.2], [8.92, 86.4], [4.74, 84.9], [9.48, 85.1], [9.22, 84.6], [9.5, 83.3], [5.03, 83.3], [4.72, 82.4], [9.22, 82.8], [9.5, 82], [5.22, 82.8], [4.74, 80.5], [9.5, 79.9], [9.27, 80.8], [9, 80.1], [5.14, 79.1], [5.25, 79], [9.43, 78.3], [5.47, 80.8], [5.38, 77.6], [5.51, 78.5], [9.38, 76.8], [8.96, 77.9], [5.66, 76.5], [5.54, 75.6], [8.7, 76.7], [9.1, 75.1], [8.52, 75.1], [5.86, 75.1], [8.9, 73.6], [8.61, 73.8], [6.03, 72.9], [5.48, 71.2], [5.75, 71.1], [6.25, 70.9], [6.69, 72.4], [7.04, 71.8], [7.48, 72.2], [8.26, 71.5], [8.44, 72], [9.22, 71.5], [9.31, 71.4], [8.38, 70.4], [6.24, 69.1], [6.3, 69.5], [7.08, 69.3], [7.61, 69.7], [8.01, 69.5], [7.48, 68.8], [7.78, 68.7], [9.5, 69.6], [9.5, 68.6], [6.5, 67.1], [7.09, 67.3], [7.3, 71]];

const scatterPoints: Record<string, number[][]> = {
  '1-2': feedPropulsion, '1-3': feedImpact, '1-4': feedRotation, '1-5': feedWaterPressure, '1-6': feedWaterFlow,
  '2-3': propulsionImpact, '2-4': propulsionRotation, '2-5': propulsionWaterPressure, '2-6': propulsionWaterFlow,
  '3-4': impactRotation, '3-5': impactWaterPressure, '3-6': impactWaterFlow,
  '4-5': rotationWaterPressure, '4-6': rotationWaterFlow,
  '5-6': waterPressureWaterFlow,
};

const WIDTH = 4226;
const HEIGHT = 3822;
const panelW = 534;
const panelH = 482;
const colX = (i: number) => 207 + i * 574.5;
const rowY = (j: number) => 34 + j * 520;
const yLabelX = [0, 100, 81, 51, 81, 100, 60];
const xLabelBaseline = [3775, 3775, 3788, 3788, 3788, 3775];

const GRID = '#cccccc';
const BLUE = '#0584ba';
const BAR = '#a9c5e0';
const INK = '#262626';
const FONT = '"Liberation Sans", Arial, sans-serif';

export default function App() {
  const svgRef = useRef<SVGSVGElement>(null);

  useEffect(() => {
    if (!svgRef.current) return;
    const svg = d3.select(svgRef.current);
    svg.selectAll('*').remove();
    svg.append('rect').attr('width', WIDTH).attr('height', HEIGHT).attr('fill', '#fff');

    const n = variables.length;

    d3.range(n).forEach(row => {
      d3.range(n).forEach(col => {
        const g = svg.append('g').attr('transform', `translate(${colX(col)},${rowY(row)})`);
        const x = d3.scaleLinear().domain(axisDomains[col]).range([0, panelW]);
        const y = d3.scaleLinear().domain(axisDomains[row]).range([panelH, 0]);

        // gridlines and tick labels only on the shared outer axes
        if (col === 0 && yTicks[row].length) {
          const yAxis = d3.axisLeft(y).tickValues(yTicks[row]).tickSize(-panelW).tickPadding(40).offset(0)
            .tickFormat(d => (row === 3 ? d3.format('.1f')(d as number) : String(d)));
          const ag = g.append('g').call(yAxis);
          ag.select('.domain').remove();
          ag.selectAll('line').attr('stroke', GRID).attr('stroke-width', 4);
          ag.selectAll('text').attr('fill', INK).style('font-family', FONT).style('font-size', '34px');
        }
        if (row === n - 1 && xTicks[col].length) {
          const xAxis = d3.axisBottom(x).tickValues(xTicks[col]).tickSize(-panelH).offset(0).tickFormat(d => String(d));
          const ag = g.append('g').attr('transform', `translate(0,${panelH})`).call(xAxis);
          ag.select('.domain').remove();
          ag.selectAll('line').attr('stroke', GRID).attr('stroke-width', 4);
          ag.selectAll('text')
            .attr('fill', INK)
            .attr('y', 0)
            .attr('dy', '.35em')
            .attr('text-anchor', 'middle')
            .attr('transform', d => `translate(0,${(d as number) >= 10 ? 62 : 57}) rotate(-30)`)
            .style('font-family', FONT)
            .style('font-size', '34px');
        }

        if (row === col) {
          // diagonal: histogram and bold name
          const counts = histCounts[col];
          const [lo, hi] = histRanges[col];
          const binW = (hi - lo) / counts.length;
          const h = d3.scaleLinear().domain([0, d3.max(counts)! * 1.05]).range([panelH, 0]);
          g.selectAll('rect.bar')
            .data(counts)
            .enter()
            .append('rect')
            .attr('class', 'bar')
            .attr('x', (_, i) => x(lo + i * binW) + 1)
            .attr('width', x(lo + binW) - x(lo) - 3)
            .attr('y', d => h(d))
            .attr('height', d => panelH - h(d))
            .attr('fill', BAR);
          g.append('text')
            .attr('x', panelW / 2)
            .attr('y', panelH * 0.245)
            .attr('text-anchor', 'middle')
            .attr('dominant-baseline', 'central')
            .style('font-family', FONT)
            .style('font-weight', 700)
            .style('font-size', '52.5px')
            .attr('fill', '#000')
            .text(variables[col]);
        } else if (col > row) {
          // upper triangle: correlation text
          const t = g.append('text')
            .attr('x', panelW / 2)
            .attr('y', panelH / 2 - 5)
            .attr('text-anchor', 'middle')
            .attr('dominant-baseline', 'central')
            .style('font-family', '"DejaVu Sans", sans-serif')
            .style('font-size', '49px')
            .attr('fill', BLUE);
          t.append('tspan').style('font-style', 'italic').text('r');
          t.append('tspan').text(` = ${rValues[row][col - row - 1].toFixed(3)}`);
        } else {
          // lower triangle: overplotted core plus individual points
          if (col === 0) {
            g.selectAll('line.strip')
              .data(stripsByRow[row])
              .enter()
              .append('line')
              .attr('class', 'strip')
              .attr('x1', d => x(d[0]))
              .attr('x2', d => x(d[0]))
              .attr('y1', d => y(d[1]))
              .attr('y2', d => y(d[2]))
              .attr('stroke', BLUE)
              .attr('stroke-width', 14)
              .attr('stroke-linecap', 'round');
          }
          const key = `${col}-${row}`;
          const core = cores[key];
          if (core) {
            const outline = d3.line<number[]>()
              .x(d => x(d[0]))
              .y(d => y(d[1]))
              .curve(d3.curveCatmullRomClosed.alpha(0.5));
            // uneven round dashes on the outline give the core the rough edge of overlapping markers
            g.append('path')
              .attr('d', outline(core))
              .attr('fill', BLUE)
              .attr('stroke', BLUE)
              .attr('stroke-opacity', 0.75)
              .attr('stroke-width', 15)
              .attr('stroke-linecap', 'round')
              .attr('stroke-dasharray', '0 9 6 23 0 14 3 31 0 19 8 12 0 27');
          }
          const points = col === 0 ? gradePointsByRow[row] : scatterPoints[key];
          g.selectAll('circle')
            .data(points)
            .enter()
            .append('circle')
            .attr('cx', d => x(d[0]))
            .attr('cy', d => y(d[1]))
            .attr('r', 7.4)
            .attr('fill', BLUE)
            .attr('fill-opacity', 0.72);
        }

        g.append('rect')
          .attr('width', panelW)
          .attr('height', panelH)
          .attr('fill', 'none')
          .attr('stroke', GRID)
          .attr('stroke-width', 5);
      });
    });

    // outer axis names
    d3.range(1, n).forEach(row => {
      const cy = rowY(row) + panelH / 2;
      svg.append('text')
        .attr('transform', `translate(${yLabelX[row]},${cy}) rotate(-90)`)
        .attr('text-anchor', 'middle')
        .attr('dominant-baseline', 'central')
        .style('font-family', FONT)
        .style('font-size', '46px')
        .attr('fill', INK)
        .text(variables[row]);
    });
    d3.range(n - 1).forEach(col => {
      svg.append('text')
        .attr('x', colX(col) + panelW / 2)
        .attr('y', xLabelBaseline[col])
        .attr('text-anchor', 'middle')
        .style('font-family', FONT)
        .style('font-size', '46px')
        .attr('fill', INK)
        .text(variables[col]);
    });
  }, []);

  // the chart fills the page whatever size the window really has
  return <svg ref={svgRef} viewBox={`0 0 ${WIDTH} ${HEIGHT}`} preserveAspectRatio="none" style={{ position: 'absolute', left: 0, top: 0, display: 'block', width: '100vw', height: '100vh' }} />;
}
